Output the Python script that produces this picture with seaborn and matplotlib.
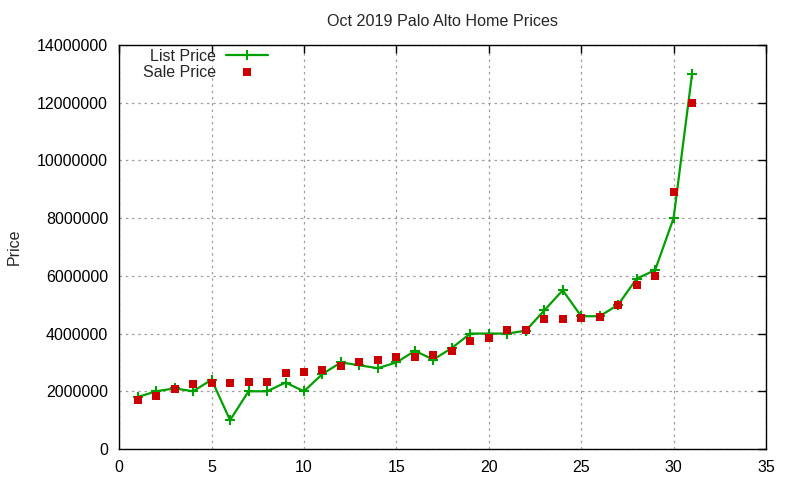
import pandas as pd
import matplotlib
matplotlib.use("Agg")
import matplotlib.pyplot as plt
import seaborn as sns
from matplotlib.ticker import FormatStrFormatter

day = list(range(1, 32))
list_price = [1800000, 2000000, 2100000, 2000000, 2400000, 1000000, 2000000, 2000000,
              2300000, 2000000, 2600000, 3000000, 2900000, 2800000, 3000000, 3400000,
              3100000, 3500000, 4000000, 4000000, 4000000, 4100000, 4800000, 5500000,
              4600000, 4600000, 5000000, 5900000, 6200000, 8000000, 13000000]
sale_price = [1710000, 1850000, 2070000, 2260000, 2300000, 2300000, 2330000, 2330000,
              2640000, 2680000, 2750000, 2890000, 3010000, 3090000, 3190000, 3200000,
              3260000, 3410000, 3750000, 3860000, 4120000, 4120000, 4500000, 4520000,
              4550000, 4580000, 4990000, 5690000, 6000000, 8900000, 12000000]

data = pd.DataFrame({"day": day, "list": list_price, "sale": sale_price})

sns.set_style("white")
plt.rcParams["font.family"] = ["Liberation Sans", "DejaVu Sans"]

fig = plt.figure(figsize=(8, 4.8), dpi=100)
ax = fig.add_axes([0.149, 0.0646, 0.8085, 0.8417])

green = "#00a000"
sns.lineplot(data=data, x="day", y="list", ax=ax, color=green, linewidth=1.6,
             marker="+", markersize=7.5, markeredgewidth=1.5, markeredgecolor=green,
             label="List Price")
sns.scatterplot(data=data, x="day", y="sale", ax=ax, color="#cc0000", marker="s",
                s=34, linewidth=0, label="Sale Price", zorder=3)

ax.set_xlim(0, 35)
ax.set_ylim(0, 14000000)
ax.set_xticks(range(0, 36, 5))
ax.set_yticks(range(0, 14000001, 2000000))
ax.yaxis.set_major_formatter(FormatStrFormatter("%d"))
ax.set_xlabel("")
ax.set_ylabel("Price", fontsize=11.5, labelpad=11)
ax.set_title("Oct 2019 Palo Alto Home Prices", fontsize=11.6, pad=14)

ax.grid(True, color="#a0a0a0", linestyle=(0, (2, 3)), linewidth=0.9)
ax.tick_params(direction="in", length=6, width=1, top=True, right=True,
               labelsize=11.5, pad=8, colors="black")
for s in ax.spines.values():
    s.set_color("black")
    s.set_linewidth(1)

ax.legend(loc="upper left", bbox_to_anchor=(0.02, 1.018), markerfirst=False,
          frameon=False, fontsize=11.5, handlelength=2.6, labelspacing=0.05,
          borderpad=0.2, handletextpad=0.6)

fig.savefig("out.png", dpi=100)
